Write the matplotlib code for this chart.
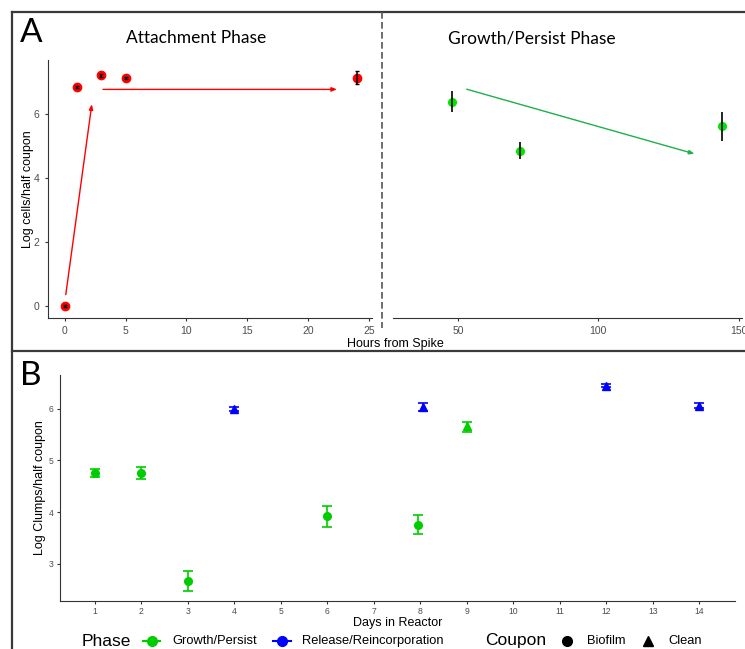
import matplotlib.pyplot as plt
from matplotlib.lines import Line2D

# ---- data ----
# panel A, attachment phase (hours, log cells)
hrs_attach = [0, 1, 3, 5, 24]
log_attach = [0.0, 6.85, 7.22, 7.14, 7.15]
err_attach = [0.02, 0.03, 0.04, 0.03, 0.2]
# panel A, growth/persist phase
hrs_growth = [48, 72, 144]
log_growth = [6.4, 4.86, 5.62]
err_growth = [0.33, 0.27, 0.46]
# trend arrows (start -> end)
arrow_attach = [((0.06, 0.27), (2.26, 6.4)), ((2.92, 6.78), (22.6, 6.78))]
arrow_growth = [((52.2, 6.81), (135.2, 4.74))]

# panel B (days, log clumps)
days = [1, 2, 3, 4, 6, 7.95, 8.05, 9, 12, 14]
log_clumps = [4.75, 4.76, 2.67, 6.0, 3.92, 3.76, 6.03, 5.66, 6.44, 6.06]
err_lo = [0.08, 0.12, 0.19, 0.04, 0.21, 0.18, 0.08, 0.11, 0.03, 0.04]
err_hi = [0.08, 0.12, 0.20, 0.04, 0.20, 0.18, 0.07, 0.09, 0.03, 0.04]
phase = ['Growth/Persist', 'Growth/Persist', 'Growth/Persist', 'Release/Reincorporation',
         'Growth/Persist', 'Growth/Persist', 'Release/Reincorporation', 'Growth/Persist',
         'Release/Reincorporation', 'Release/Reincorporation']
coupon = ['Biofilm', 'Biofilm', 'Biofilm', 'Clean', 'Biofilm', 'Biofilm', 'Clean',
          'Clean', 'Clean', 'Clean']

phase_col = {'Growth/Persist': '#00CD00', 'Release/Reincorporation': '#0000FF'}
coupon_mk = {'Biofilm': 'o', 'Clean': '^'}

W, H = 745, 649
fig = plt.figure(figsize=(W / 100, H / 100), dpi=100)
plt.rcParams['font.family'] = ['Liberation Sans', 'DejaVu Sans']
title_font = ['Lato', 'DejaVu Sans']


def rect(l, t, r, b):
    return [l / W, 1 - b / H, (r - l) / W, (b - t) / H]


def classic(ax, left=True):
    for s in ['top', 'right']:
        ax.spines[s].set_visible(False)
    ax.spines['bottom'].set_color('#333333')
    ax.spines['left'].set_color('#333333')
    ax.spines['left'].set_visible(left)
    ax.tick_params(colors='#333333', labelcolor='#4D4D4D', length=2.5, width=0.8)


# ---- panel A left ----
axL = fig.add_axes(rect(48, 60, 372, 318))
axL.plot(hrs_attach, log_attach, 'o', color='red', ms=6, zorder=2)
axL.errorbar(hrs_attach, log_attach, yerr=err_attach, fmt='none', ecolor='black',
             elinewidth=1.1, capsize=1.5, capthick=1, zorder=3)
for (x0, y0), (x1, y1) in arrow_attach:
    axL.annotate('', xy=(x1, y1), xytext=(x0, y0),
                 arrowprops=dict(arrowstyle='-|>,head_length=0.3,head_width=0.12',
                                 color='red', lw=1))
axL.set_xlim(-1.37, 25.25)
axL.set_ylim(-0.375, 7.7)
axL.set_xticks([0, 5, 10, 15, 20, 25])
axL.set_yticks([0, 2, 4, 6])
axL.tick_params(labelsize=7.5)
axL.set_ylabel('Log cells/half coupon', fontsize=9)
axL.yaxis.set_label_coords(-0.043, 0.5)
classic(axL)

# ---- panel A right ----
axR = fig.add_axes(rect(393, 60, 742, 318))
axR.plot(hrs_growth, log_growth, 'o', color='#00E600', ms=5.5, zorder=2)
axR.errorbar(hrs_growth, log_growth, yerr=err_growth, fmt='none', ecolor='black',
             elinewidth=1.2, zorder=3)
for (x0, y0), (x1, y1) in arrow_growth:
    axR.annotate('', xy=(x1, y1), xytext=(x0, y0),
                 arrowprops=dict(arrowstyle='-|>,head_length=0.3,head_width=0.12',
                                 color='#1FAF4B', lw=1))
axR.set_xlim(26.9, 151.2)
axR.set_ylim(-0.375, 7.7)
axR.set_xticks([50, 100, 150])
axR.set_yticks([])
axR.tick_params(labelsize=7.5)
classic(axR, left=False)

fig.text(196 / W, 1 - 38 / H, 'Attachment Phase', fontsize=12.5, family=title_font,
         ha='center', va='center')
fig.text(532 / W, 1 - 38 / H, 'Growth/Persist Phase', fontsize=12.5, family=title_font,
         ha='center', va='center')
fig.text(20 / W, 1 - 33 / H, 'A', fontsize=24, family=title_font, ha='left', va='center')
fig.text(395 / W, 1 - 344 / H, 'Hours from Spike', fontsize=9, ha='center', va='center')

# ---- panel B ----
axB = fig.add_axes(rect(60, 375, 735, 601))
for x, y, lo, hi, p, c in zip(days, log_clumps, err_lo, err_hi, phase, coupon):
    axB.errorbar([x], [y], yerr=[[lo], [hi]], fmt=coupon_mk[c], color=phase_col[p],
                 ms=5.5, elinewidth=1.2, capsize=3.5, capthick=1.2)
axB.set_xlim(0.25, 14.77)
axB.set_ylim(2.284, 6.65)
axB.set_xticks(range(1, 15))
axB.set_yticks([3, 4, 5, 6])
classic(axB)
axB.tick_params(labelsize=6.2, pad=2)
axB.set_xlabel('Days in Reactor', fontsize=9)
axB.xaxis.set_label_coords(0.5, -0.072)
axB.set_ylabel('Log Clumps/half coupon', fontsize=9)
axB.yaxis.set_label_coords(-0.021, 0.5)
fig.text(20 / W, 1 - 376 / H, 'B', fontsize=24, family=title_font, ha='left', va='center')

# ---- legend ----
ly = 1 - 641 / H
fig.text(82 / W, ly, 'Phase', fontsize=12.5, va='center')
fig.text(172 / W, ly, 'Growth/Persist', fontsize=9.3, va='center')
fig.text(302 / W, ly, 'Release/Reincorporation', fontsize=9.3, va='center')
fig.text(485 / W, ly, 'Coupon', fontsize=12.5, va='center')
fig.text(587 / W, ly, 'Biofilm', fontsize=9.3, va='center')
fig.text(668 / W, ly, 'Clean', fontsize=9.3, va='center')
keys = [((143, 160), phase_col['Growth/Persist'], 'o', '-'),
        ((273, 291), phase_col['Release/Reincorporation'], 'o', '-'),
        ((563, 571), 'black', 'o', ''),
        ((644, 652), 'black', '^', '')]
for (x0, x1), col, mk, ls in keys:
    fig.add_artist(Line2D([x0 / W, x1 / W], [ly, ly], color=col, lw=1.5, ls=ls or 'none'))
    fig.add_artist(Line2D([(x0 + x1) / 2 / W], [ly], color=col, marker=mk, ms=7, ls='none'))

# ---- frame lines ----
fc = '#3A3A3A'
fig.add_artist(Line2D([12 / W, 1], [1 - 12 / H, 1 - 12 / H], color=fc, lw=1.6))
fig.add_artist(Line2D([12 / W, 12 / W], [1 - 12 / H, 0], color=fc, lw=1.6))
fig.add_artist(Line2D([12 / W, 1], [1 - 351 / H, 1 - 351 / H], color=fc, lw=1.6))
fig.add_artist(Line2D([382 / W, 382 / W], [1 - 12 / H, 1 - 328 / H], color='#555555',
                      lw=1.2, ls=(0, (4, 2))))

fig.savefig('out.png', dpi=100)
